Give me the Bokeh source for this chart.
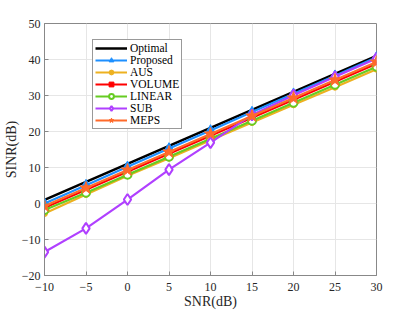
from bokeh.plotting import figure
from bokeh.models import Range1d, FixedTicker
from bokeh.embed import file_html
from bokeh.resources import INLINE

snr = [-10, -5, 0, 5, 10, 15, 20, 25, 30]
optimal = [1.0, 6.0, 11.0, 16.0, 21.0, 26.0, 31.0, 36.0, 41.0]
proposed = [0.0, 5.1, 10.2, 15.3, 20.3, 25.4, 30.5, 35.5, 40.6]
aus = [-2.8, 2.5, 7.7, 12.6, 17.6, 22.5, 27.4, 32.3, 37.3]
volume = [-1.2, 3.8, 8.8, 13.8, 18.8, 23.8, 28.8, 33.8, 38.8]
linear = [-1.8, 3.0, 8.0, 13.0, 18.0, 23.0, 28.0, 33.0, 38.0]
sub = [-13.5, -6.9, 1.1, 9.4, 16.9, 24.6, 30.1, 35.2, 40.3]
meps = [-0.7, 4.3, 9.3, 14.3, 19.3, 24.3, 29.3, 34.3, 39.3]

x_ticks = [-10, -5, 0, 5, 10, 15, 20, 25, 30]
y_ticks = [-20, -10, 0, 10, 20, 30, 40, 50]

FONT = "Liberation Serif"

p = figure(width=400, height=311, output_backend="svg", toolbar_location=None,
           x_range=Range1d(-10, 30), y_range=Range1d(-20, 50),
           min_border_left=43, min_border_right=24, min_border_top=23, min_border_bottom=35)

p.outline_line_color = "#888888"
p.outline_line_width = 1
p.background_fill_color = "white"
p.border_fill_color = "white"

for ax in (p.xaxis[0], p.yaxis[0]):
    ax.major_label_text_font = FONT
    ax.major_label_text_font_size = "12px"
    ax.major_label_text_color = "#262626"
    ax.axis_label_text_font = FONT
    ax.axis_label_text_font_size = "14px"
    ax.axis_label_text_font_style = "normal"
    ax.axis_label_text_color = "#262626"
    ax.axis_line_color = "#888888"
    ax.major_tick_line_color = "#888888"
    ax.major_tick_in = 4
    ax.major_tick_out = 0
    ax.minor_tick_line_color = None

p.xaxis.ticker = FixedTicker(ticks=x_ticks)
p.yaxis.ticker = FixedTicker(ticks=y_ticks)
p.xaxis.axis_label = "SNR(dB)"
p.yaxis.axis_label = "SINR(dB)"
p.xaxis.major_label_standoff = 7
p.yaxis.major_label_standoff = 4
p.xaxis.axis_label_standoff = 0
p.yaxis.axis_label_standoff = 0

p.xgrid.ticker = FixedTicker(ticks=x_ticks)
p.ygrid.ticker = FixedTicker(ticks=y_ticks)
p.grid.grid_line_color = "#e6e6e6"
p.grid.grid_line_width = 1

lw = 2.2
p.line(snr, optimal, color="black", line_width=2.6, legend_label="Optimal")

c = "#1E90FF"
p.line(snr, proposed, color=c, line_width=lw, legend_label="Proposed")
p.scatter(snr, proposed, marker="triangle", size=10, color=c, legend_label="Proposed")

c = "#EDB120"
p.line(snr, aus, color=c, line_width=lw, legend_label="AUS")
p.scatter(snr, aus, marker="circle", size=6, color=c, legend_label="AUS")

c = "#FF0000"
p.line(snr, volume, color=c, line_width=lw, legend_label="VOLUME")
p.scatter(snr, volume, marker="square", size=7, color=c, legend_label="VOLUME")

c = "#66CC22"
p.line(snr, linear, color=c, line_width=lw, legend_label="LINEAR")
p.scatter(snr, linear, marker="circle", size=8, line_color=c, fill_color="white",
          line_width=2, legend_label="LINEAR")

c = "#B040FF"
p.line(snr, sub, color=c, line_width=lw, legend_label="SUB")
p.scatter(snr, sub, marker="diamond", size=11, line_color=c, fill_color="white",
          line_width=2, legend_label="SUB")

c = "#FF6A2A"
p.line(snr, meps, color=c, line_width=lw, legend_label="MEPS")
p.scatter(snr, meps, marker="star", size=13, color=c, legend_label="MEPS")

lg = p.legend[0]
lg.location = (48, 146)
lg.label_text_font = FONT
lg.label_text_font_size = "11.5px"
lg.label_text_font_style = "normal"
lg.label_text_color = "black"
lg.label_height = 12
lg.glyph_height = 12
lg.glyph_width = 32
lg.label_standoff = 3
lg.spacing = 0
lg.padding = 2
lg.margin = 0
lg.border_line_color = "#333333"
lg.border_line_width = 1
lg.background_fill_alpha = 1

open("out.html", "w").write(file_html(p, INLINE))
